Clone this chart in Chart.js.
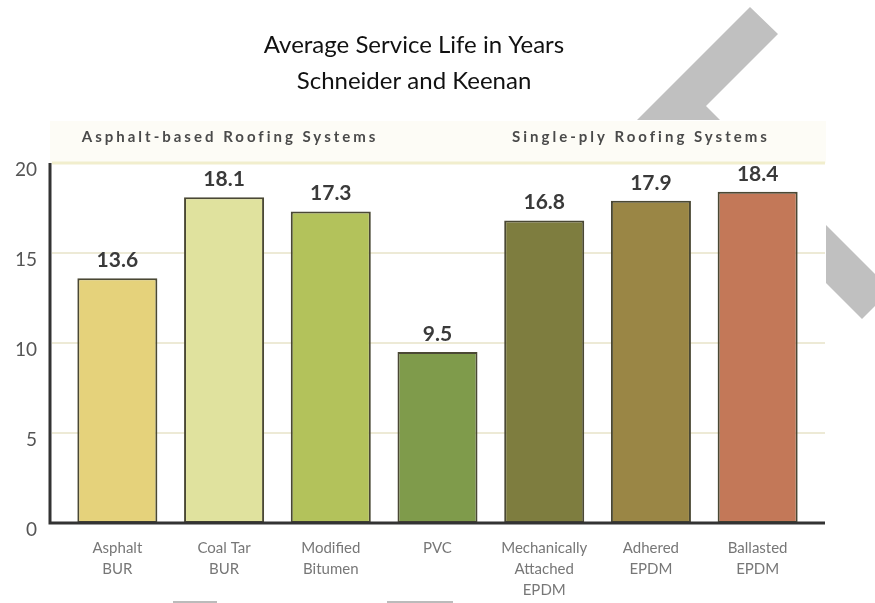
<!DOCTYPE html>
<html>
<head>
<meta charset="utf-8">
<title>Average Service Life in Years</title>
<script src="https://cdn.jsdelivr.net/npm/chart.js@4"></script>
<style>
    body { margin: 0; background: #fff; }
    #wrap { width: 875px; height: 603px; }
</style>
</head>
<body>
<div id="wrap"><canvas id="chart" width="875" height="603"></canvas></div>
<script>
// ----------------------
// Data
// ----------------------
const categories = [
    ["Asphalt", "BUR"],
    ["Coal Tar", "BUR"],
    ["Modified", "Bitumen"],
    ["PVC"],
    ["Mechanically", "Attached", "EPDM"],
    ["Adhered", "EPDM"],
    ["Ballasted", "EPDM"]
];
const serviceLife = [13.6, 18.1, 17.3, 9.5, 16.8, 17.9, 18.4];
const yTicks = [0, 5, 10, 15, 20];
const titleLines = ["Average Service Life in Years", "Schneider and Keenan"];
const groupLabels = ["Asphalt-based Roofing Systems", "Single-ply Roofing Systems"];

const FONT = "Lato, 'Open Sans', sans-serif";

// ----------------------
// Background, grid, axes, labels
// ----------------------
const decorPlugin = {
    id: "decor",
    beforeDraw(chart) {
        const ctx = chart.ctx;
        const y = chart.scales.y;
        ctx.save();
        // grey arrows behind the chart picture
        ctx.fillStyle = "#c0c0c0";
        ctx.beginPath();
        ctx.moveTo(750, 7); ctx.lineTo(778, 34); ctx.lineTo(706, 106);
        ctx.lineTo(735, 135); ctx.lineTo(622, 135); ctx.closePath();
        ctx.fill();
        ctx.beginPath();
        ctx.moveTo(826, 225); ctx.lineTo(875, 274); ctx.lineTo(875, 306);
        ctx.lineTo(862, 319); ctx.lineTo(826, 283); ctx.closePath();
        ctx.fill();
        // chart picture
        ctx.fillStyle = "#ffffff";
        ctx.fillRect(0, 120, 826, 483);
        ctx.fillStyle = "#fdfcf6";
        ctx.fillRect(50, 121, 776, y.getPixelForValue(20) - 121);
        // grid lines
        yTicks.forEach(v => {
            if (v === 0) return;
            const py = y.getPixelForValue(v);
            ctx.strokeStyle = v === 20 ? "#f1eecd" : "#e7e3c8";
            ctx.lineWidth = v === 20 ? 3 : 1.5;
            ctx.beginPath();
            ctx.moveTo(52, py);
            ctx.lineTo(825, py);
            ctx.stroke();
        });
        ctx.restore();
    },
    afterDatasetsDraw(chart) {
        const ctx = chart.ctx;
        const y = chart.scales.y;
        const x = chart.scales.x;
        const meta = chart.getDatasetMeta(0);
        ctx.save();
        // axis lines
        ctx.strokeStyle = "#333";
        ctx.lineWidth = 3;
        ctx.beginPath();
        ctx.moveTo(50, y.getPixelForValue(20));
        ctx.lineTo(50, y.getPixelForValue(0));
        ctx.lineTo(825, y.getPixelForValue(0));
        ctx.stroke();
        // value labels
        ctx.fillStyle = "#3a3a3a";
        ctx.font = "bold 21px " + FONT;
        ctx.textAlign = "center";
        ctx.textBaseline = "middle";
        meta.data.forEach((bar, i) => {
            ctx.fillText(serviceLife[i].toFixed(1), bar.x, bar.y - 18);
        });
        // group headings
        ctx.fillStyle = "#4a4a4a";
        ctx.font = "bold 15px " + FONT;
        ctx.letterSpacing = "3px";
        ctx.fillText(groupLabels[0], (x.getPixelForValue(0) + x.getPixelForValue(2)) / 2 + 6, 137);
        ctx.fillText(groupLabels[1], x.getPixelForValue(5) - 10, 137);
        ctx.letterSpacing = "0px";
        // little grey marks at the bottom
        ctx.strokeStyle = "#bbb";
        ctx.lineWidth = 2;
        ctx.beginPath();
        ctx.moveTo(173, 602); ctx.lineTo(217, 602);
        ctx.moveTo(387, 602); ctx.lineTo(453, 602);
        ctx.stroke();
        ctx.restore();
    },
    afterDraw(chart) {
        const ctx = chart.ctx;
        ctx.save();
        ctx.fillStyle = "#111";
        ctx.font = "24px " + FONT;
        ctx.textAlign = "center";
        ctx.textBaseline = "middle";
        ctx.fillText(titleLines[0], 414, 45);
        ctx.fillText(titleLines[1], 414, 81);
        ctx.restore();
    }
};

// ----------------------
// Chart
// ----------------------
new Chart(document.getElementById("chart").getContext("2d"), {
    type: "bar",
    data: {
        labels: categories,
        datasets: [{
            data: serviceLife,
            backgroundColor: ["#e5d27b", "#e0e29e", "#b3c25b", "#7f9b4b", "#7e7d3f", "#9a8645", "#c37858"],
            borderColor: "#4a4834",
            borderWidth: 2,
            borderSkipped: false,
            barPercentage: 0.75,
            categoryPercentage: 1
        }]
    },
    options: {
        responsive: false,
        animation: false,
        layout: { padding: { top: 163, right: 64, left: 0, bottom: 0 } },
        plugins: {
            legend: { display: false },
            tooltip: { enabled: false }
        },
        scales: {
            x: {
                grid: { display: false, drawTicks: false },
                border: { display: false },
                ticks: {
                    color: "#777",
                    padding: 15,
                    maxRotation: 0,
                    autoSkip: false,
                    font: { family: FONT, size: 15, lineHeight: 1.4 }
                },
                afterFit(s) { s.height = 80; }
            },
            y: {
                min: 0,
                max: 20,
                grid: { display: false, drawTicks: false },
                border: { display: false },
                afterBuildTicks(s) { s.ticks = yTicks.map(v => ({ value: v })); },
                ticks: {
                    color: "#555",
                    padding: 27,
                    labelOffset: 7,
                    font: { family: FONT, size: 19 }
                },
                afterFit(s) { s.width = 64; }
            }
        }
    },
    plugins: [decorPlugin]
});
</script>
</body>
</html>
